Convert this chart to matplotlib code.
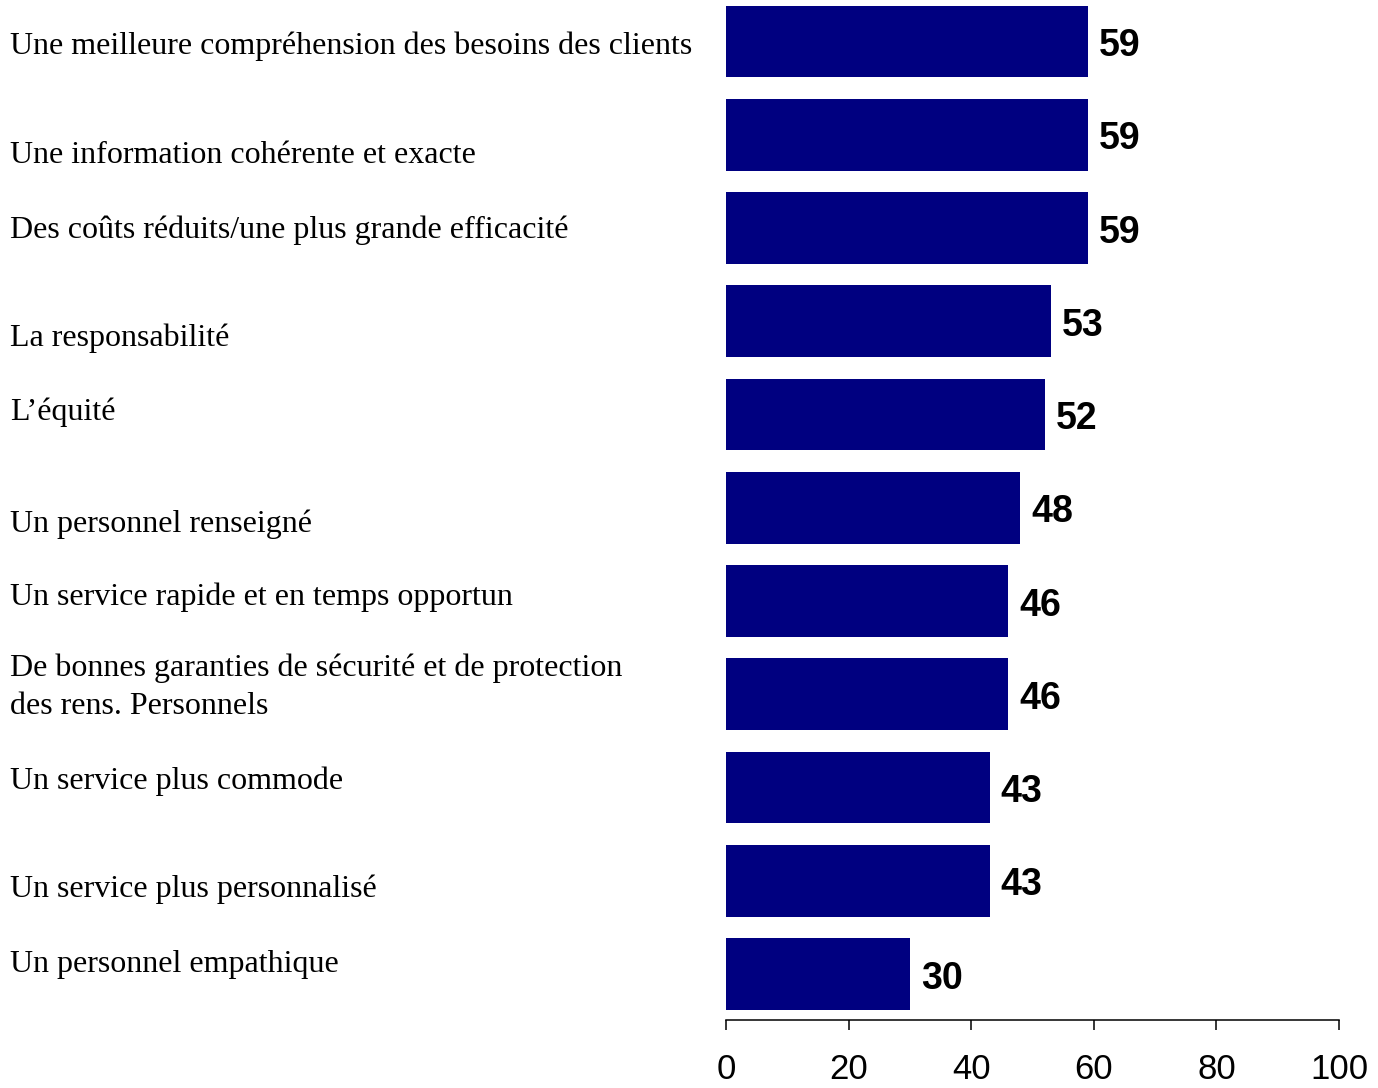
import matplotlib
matplotlib.use('Agg')
import matplotlib.pyplot as plt

# 数据
labels = [
    u'Une meilleure compréhension des besoins des clients',
    u'Une information cohérente et exacte',
    u'Des coûts réduits/une plus grande efficacité',
    u'La responsabilité',
    u'L\u2019équité',
    u'Un personnel renseigné',
    u'Un service rapide et en temps opportun',
    u'De bonnes garanties de sécurité et de protection\ndes rens. Personnels',
    u'Un service plus commode',
    u'Un service plus personnalisé',
    u'Un personnel empathique',
]
values = [59, 59, 59, 53, 52, 48, 46, 46, 43, 43, 30]
xticks = [0, 20, 40, 60, 80, 100]

# 左侧文字(最后一行)的基线位置(像素, 从顶部算)
label_baselines = [54, 163, 238, 346, 420, 532, 605, 714, 789, 897, 972]

W, H = 1378, 1088
fig = plt.figure(figsize=(W / 100, H / 100), dpi=100)
ax = fig.add_axes([726 / W, 68 / H, 613 / W, 1020 / H])

pos = list(range(len(values)))
ax.barh(pos, values, height=0.77, color='#000080')

ax.set_xlim(0, 100)
ax.set_ylim(10.493, -0.445)

# 数值标注
for p, v in zip(pos, values):
    ax.text(v + 1.8, p + 0.05, str(v), va='center', ha='left',
            fontsize=27, fontweight='bold', family='Liberation Sans')

# 坐标轴样式
for side in ['top', 'right', 'left']:
    ax.spines[side].set_visible(False)
ax.spines['bottom'].set_linewidth(1.1)
ax.set_yticks([])
ax.set_xticks(xticks)
ax.set_xticklabels([str(t) for t in xticks], fontsize=25, family='Liberation Sans')
ax.tick_params(axis='x', direction='out', length=7.5, width=1.1, pad=16)

# 左侧类别文字
for text, yb in zip(labels, label_baselines):
    fig.text(10 / W, 1 - yb / H, text, ha='left', va='baseline',
             fontsize=23, family='Liberation Serif', linespacing=1.4)

fig.savefig('out.png', dpi=100)
plt.close(fig)
